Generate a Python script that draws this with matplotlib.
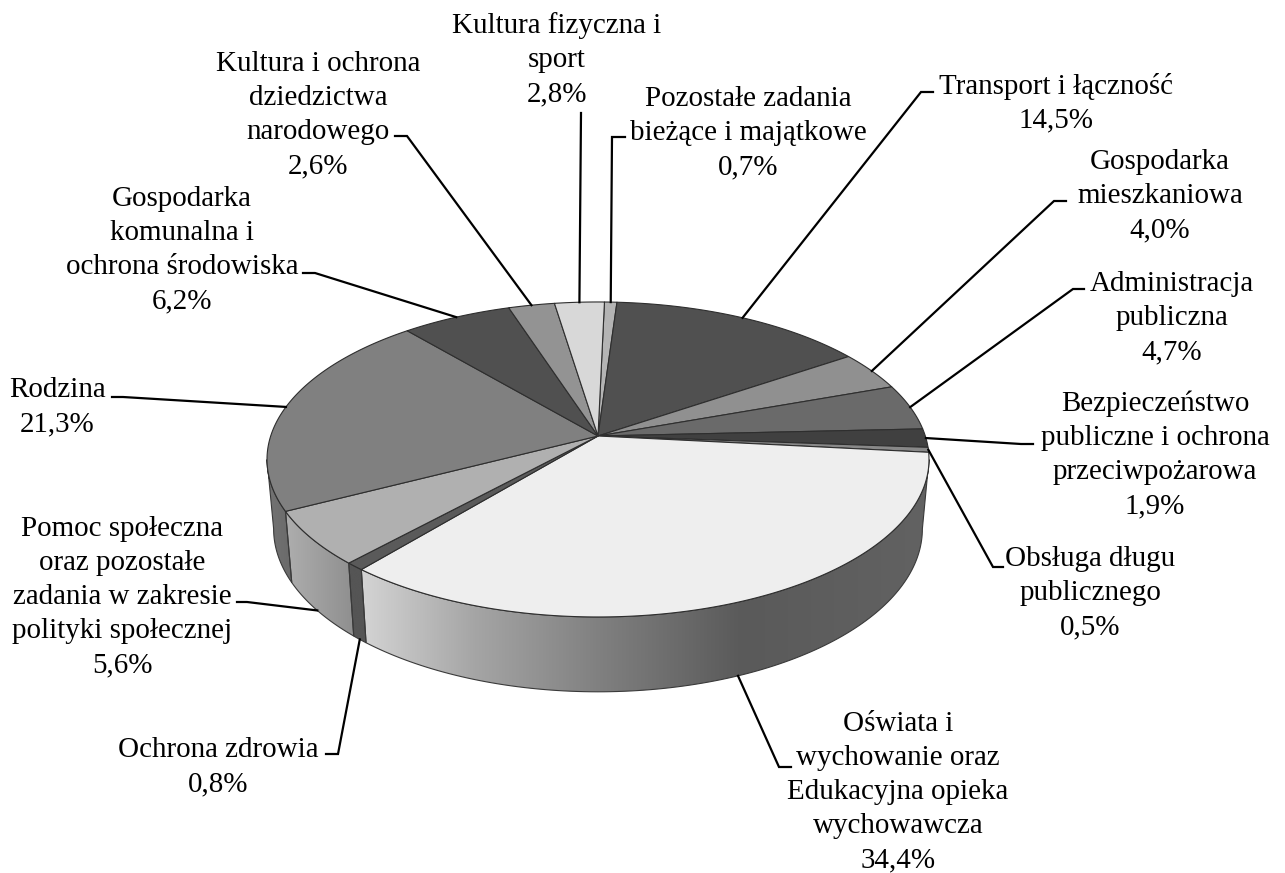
#!/usr/bin/env python3
"""3D pie chart (perspective view) of budget spending shares."""

import numpy as np
import matplotlib
matplotlib.use("Agg")
import matplotlib.pyplot as plt
from matplotlib.colors import LinearSegmentedColormap
from matplotlib.patches import Polygon

plt.rcParams['font.family'] = ['Liberation Serif', 'DejaVu Serif']

# clockwise from the top of the pie
names = [
    "Pozostałe zadania\nbieżące i majątkowe",
    "Transport i łączność",
    "Gospodarka\nmieszkaniowa",
    "Administracja\npubliczna",
    "Bezpieczeństwo\npubliczne i ochrona\nprzeciwpożarowa",
    "Obsługa długu\npublicznego",
    "Oświata i\nwychowanie oraz\nEdukacyjna opieka\nwychowawcza",
    "Ochrona zdrowia",
    "Pomoc społeczna\noraz pozostałe\nzadania w zakresie\npolityki społecznej",
    "Rodzina",
    "Gospodarka\nkomunalna i\nochrona środowiska",
    "Kultura i ochrona\ndziedzictwa\nnarodowego",
    "Kultura fizyczna i\nsport",
]
shares = [0.7, 14.5, 4.0, 4.7, 1.9, 0.5, 34.4, 0.8, 5.6, 21.3, 6.2, 2.6, 2.8]
top_colors = ['#b4b4b4', '#505050', '#909090', '#6a6a6a', '#404040', '#888888',
              '#eeeeee', '#5a5a5a', '#b0b0b0', '#808080', '#505050', '#939393',
              '#d8d8d8']

# label centre in image pixels
label_x = [748, 1056, 1160, 1172, 1155, 1090, 898, 218, 122, 57, 182, 318, 557]
label_y = [133, 103, 196, 318, 455, 593, 792, 767, 597, 407, 250, 115, 60]

# leader elbow and end next to the label
elbow_x = [612, 921, 1054, 1073, 1021, 993, 779, 338, 247, 123, 315, 407, 581]
elbow_y = [137, 92, 201, 289, 444, 567, 767, 754, 602, 397, 273, 136, 113]
end_x = [625, 933, 1066, 1084, 1033, 1003, 791, 326, 237, 112, 303, 395, 581]

# side walls that can be seen: slice index -> gradient left to right
wall_grads = {
    6: [(0, '#d4d4d4'), (0.2, '#a5a5a5'), (0.42, '#808080'), (0.67, '#5a5a5a'), (1, '#626262')],
    7: [(0, '#555555'), (1, '#555555')],
    8: [(0, '#aeaeae'), (1, '#8f8f8f')],
    9: [(0, '#737373'), (1, '#6a6a6a')],
}
# these leaders start on the lower rim, the others on the top rim
lower_leaders = [6, 7, 8]

CX, CY = 598.0, 436.0
A, B, Q = 327.3, 154.0, 0.149
START = 1.3
BOTTOM_SX, BOTTOM_SY, BOTTOM_DY = 0.98, 1.035, 68.5


def rim_top(theta):
    """Point on the top rim, theta in degrees clockwise from the back."""
    t = np.radians(theta)
    u, w = np.sin(t), -np.cos(t)
    d = 1 - Q * w
    return CX + A * u / d, CY + B * w / d


def rim_bottom(theta):
    x, y = rim_top(theta)
    return CX + BOTTOM_SX * (x - CX), CY + BOTTOM_DY + BOTTOM_SY * (y - CY)


fig = plt.figure(figsize=(12.85, 8.73), dpi=100)
ax = fig.add_axes([0, 0, 1, 1])

edges = START + 3.6 * np.concatenate([[0], np.cumsum(shares)])
tangent = np.degrees(np.arccos(-Q))

# walls first
for i, stops in wall_grads.items():
    a0 = max(edges[i], tangent)
    a1 = min(edges[i + 1], 360 - tangent)
    th = np.linspace(a0, a1, 120)
    xt, yt = rim_top(th)
    xb, yb = rim_bottom(th)
    pts = np.column_stack([np.r_[xt, xb[::-1]], np.r_[yt, yb[::-1]]])
    cmap = LinearSegmentedColormap.from_list(f"wall{i}", stops)
    left, right = pts[:, 0].min(), pts[:, 0].max()
    im = ax.imshow(np.linspace(0, 1, 256).reshape(1, -1), cmap=cmap, aspect='auto',
                   extent=[left, right, pts[:, 1].max(), pts[:, 1].min()], zorder=1)
    poly = Polygon(pts, closed=True, facecolor='none', edgecolor='#3a3a3a', lw=0.8, zorder=2)
    ax.add_patch(poly)
    im.set_clip_path(poly)

# top face
for i, col in enumerate(top_colors):
    th = np.linspace(edges[i], edges[i + 1], 150)
    xt, yt = rim_top(th)
    pts = np.column_stack([np.r_[CX, xt], np.r_[CY, yt]])
    ax.add_patch(Polygon(pts, closed=True, facecolor=col, edgecolor='#2e2e2e',
                         lw=0.8, joinstyle='round', zorder=3))

# leaders and labels
for i, name in enumerate(names):
    mid = (edges[i] + edges[i + 1]) / 2
    if i in lower_leaders:
        sx, sy = rim_bottom(mid)
    else:
        sx, sy = rim_top(mid)
    ax.plot([sx, elbow_x[i], end_x[i]], [sy, elbow_y[i], elbow_y[i]], color='black',
            lw=1.6, solid_joinstyle='miter', zorder=4)
    txt = f"{name}\n{shares[i]:.1f}%".replace('.', ',')
    ax.text(label_x[i], label_y[i], txt, ha='center', va='center', fontsize=20.9,
            linespacing=1.40, color='black', zorder=5)

ax.set_xlim(0, 1285)
ax.set_ylim(873, 0)
ax.axis('off')

fig.savefig('out.png', dpi=100, facecolor='white')
